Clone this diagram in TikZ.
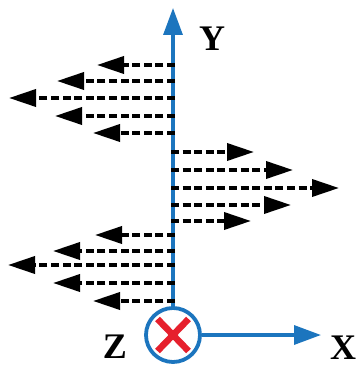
\documentclass[tikz,border=0pt]{standalone}
\usepackage{fontspec}
\setmainfont{Liberation Serif}
\usetikzlibrary{arrows.meta,calc}
\definecolor{axisblue}{RGB}{28,117,190}
\definecolor{xred}{RGB}{230,32,45}
\tikzset{
  flow/.style={line width=3.6pt, dash pattern=on 8pt off 3.6pt, -{Triangle[length=27pt,width=17pt]}},
  axisline/.style={axisblue, line width=3.3pt, -{Triangle[length=27pt,width=19pt]}},
  axlabel/.style={font=\fontsize{36}{36}\selectfont\bfseries, inner sep=0pt}
}
\begin{document}
\begin{tikzpicture}[x=1pt,y=-1pt]
\useasboundingbox (0,0) rectangle (362,366);
% origin circle
\node[circle, draw=axisblue, line width=3.8pt, fill=white, minimum size=54pt, inner sep=0pt] (o) at (173,335) {};
\coordinate (ytip) at (173,8);
\coordinate (xtip) at (321,335);
\coordinate (ybase) at (173,307);
\draw[axisline] (ybase) -- (ytip);
\draw[axisline] (o.east) -- (xtip);
\draw[xred, line width=6.5pt] ($(o)+(-15.5,-16)$) -- ($(o)+(15.5,16)$);
\draw[xred, line width=6.5pt] ($(o)+(-15.5,16)$) -- ($(o)+(15.5,-16)$);
% labels
\node[axlabel] (ylab) at (212,39) {Y};
\node[axlabel] (zlab) at (115,347) {Z};
\node[axlabel] (xlab) at (343,348) {X};
% upper left group
\foreach \y/\t [count=\i] in {65/97, 81/57, 98/9, 116/55, 133/93} {
  \coordinate (ula\i) at (175,\y);
  \coordinate (ulb\i) at (\t,\y);
  \draw[flow] (ula\i) -- (ulb\i);
}
% right group
\foreach \y/\t [count=\i] in {152/254, 170/293, 188/339, 205/291, 221/251} {
  \coordinate (ra\i) at (171,\y);
  \coordinate (rb\i) at (\t,\y);
  \draw[flow] (ra\i) -- (rb\i);
}
% lower left group
\foreach \y/\t [count=\i] in {235/95, 251/53, 265/8, 283/53, 301/93} {
  \coordinate (lla\i) at (175,\y);
  \coordinate (llb\i) at (\t,\y);
  \draw[flow] (lla\i) -- (llb\i);
}
\end{tikzpicture}
\end{document}
